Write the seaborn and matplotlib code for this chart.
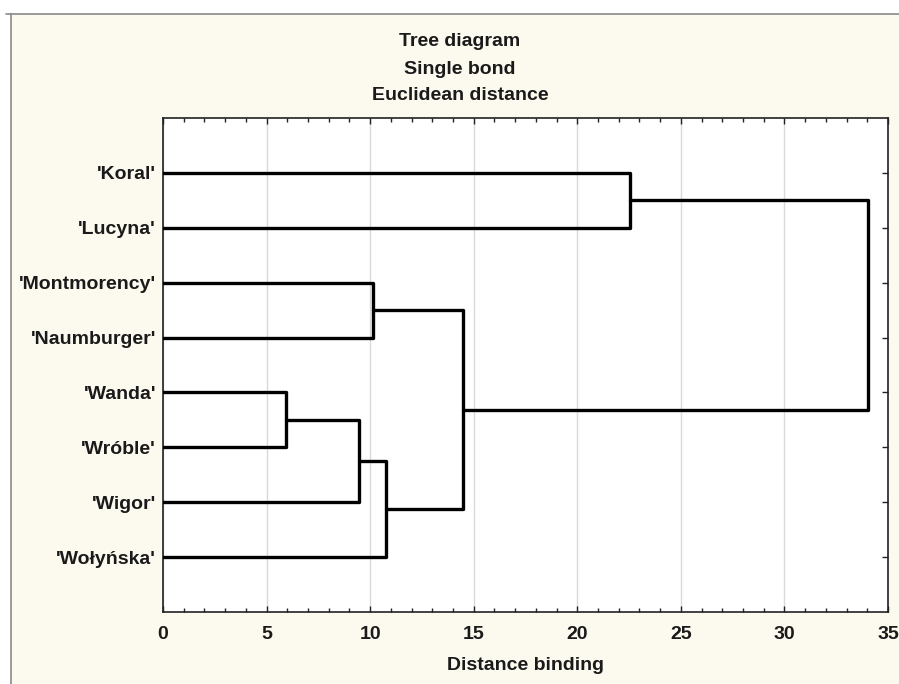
import numpy as np
import pandas as pd
import matplotlib
matplotlib.use("Agg")
import matplotlib.pyplot as plt
from matplotlib.lines import Line2D
from matplotlib.patches import Rectangle
from matplotlib.ticker import MultipleLocator, FixedLocator
import seaborn as sns

# ---- data ----
leaves = ["'Koral'", "'Lucyna'", "'Montmorency'", "'Naumburger'",
          "'Wanda'", "'Wróble'", "'Wigor'", "'Wołyńska'"]
# merges: (left cluster id, right cluster id, linkage distance)
# leaf ids 0..7, new clusters 8, 9, ...
merge_left = [4, 8, 9, 2, 11, 0, 12]
merge_right = [5, 6, 7, 3, 10, 1, 13]
merge_dist = [5.95, 9.48, 10.75, 10.15, 14.47, 22.55, 34.05]
xticks = [0, 5, 10, 15, 20, 25, 30, 35]

title_lines = ["Tree diagram", "Single bond", "Euclidean distance"]
xlabel = "Distance binding"

# ---- build segments ----
pos = {i: float(i + 1) for i in range(len(leaves))}
hgt = {i: 0.0 for i in range(len(leaves))}
rows = []
nid = len(leaves)
for k, (a, b, d) in enumerate(zip(merge_left, merge_right, merge_dist)):
    xs = [hgt[a], d, d, hgt[b]]
    ys = [pos[a], pos[a], pos[b], pos[b]]
    for j, (xx, yy) in enumerate(zip(xs, ys)):
        rows.append({"x": xx, "y": yy, "link": k, "order": j})
    pos[nid] = (pos[a] + pos[b]) / 2
    hgt[nid] = d
    nid += 1
df = pd.DataFrame(rows)

# ---- style ----
sns.set_theme(style="white")
plt.rcParams["font.family"] = ["Liberation Sans", "DejaVu Sans"]
plt.rcParams["font.weight"] = "bold"

W, H = 899, 684
fig = plt.figure(figsize=(W / 100, H / 100), dpi=100, facecolor="white")

# framed cream panel
fig.patches.append(Rectangle((11 / W, 0), 1 - 11 / W, 1 - 14 / H, transform=fig.transFigure,
                             facecolor="#fcf9ef", edgecolor="none", zorder=-10))
fig.lines.append(Line2D([6 / W, 1], [1 - 14 / H, 1 - 14 / H], transform=fig.transFigure,
                        color="#8a8a8a", lw=1.2))
fig.lines.append(Line2D([11 / W, 11 / W], [0, 1 - 14 / H], transform=fig.transFigure,
                        color="#8a8a8a", lw=1.2))

ax = fig.add_axes([163 / W, 1 - 612 / H, (888 - 163) / W, (612 - 118) / H])
ax.set_facecolor("white")

sns.lineplot(data=df, x="x", y="y", units="link", estimator=None, sort=False,
             color="black", linewidth=2.4, ax=ax, legend=False, zorder=3)

ax.set_xlim(0, 35)
ax.set_ylim(len(leaves) + 1, 0)
ax.xaxis.set_major_locator(FixedLocator(xticks))
ax.xaxis.set_minor_locator(MultipleLocator(1))
ax.set_yticks(np.arange(1, len(leaves) + 1))
ax.set_yticklabels(leaves)
ax.grid(axis="x", which="major", color="#d9d9d9", lw=1, zorder=0)
ax.grid(axis="y", visible=False)

for s in ax.spines.values():
    s.set_color("#222222")
    s.set_linewidth(1.2)

FS = 14
ax.tick_params(axis="x", which="major", direction="in", length=4, width=1, color="#222222",
               top=True, bottom=True, labelsize=FS, pad=10, labelcolor="#1a1a1a")
ax.tick_params(axis="x", which="minor", direction="in", length=3, width=1, color="#222222",
               top=True, bottom=True)
ax.tick_params(axis="y", which="major", direction="in", length=4, width=1, color="#222222",
               left=False, right=True, labelsize=FS, pad=5, labelcolor="#1a1a1a")
for lab in ax.get_xticklabels() + ax.get_yticklabels():
    lab.set_fontweight("bold")
    lab.set_clip_on(False)

ax.set_xlabel(xlabel, fontsize=FS, fontweight="bold", color="#1a1a1a", labelpad=10)
ax.set_ylabel("")

for i, (t, yy) in enumerate(zip(title_lines, [41, 69, 96])):
    fig.text(460 / W, 1 - yy / H, t, ha="center", va="center", fontsize=FS,
             fontweight="bold", color="#1a1a1a")

fig.savefig("out.png", dpi=100, facecolor=fig.get_facecolor())
